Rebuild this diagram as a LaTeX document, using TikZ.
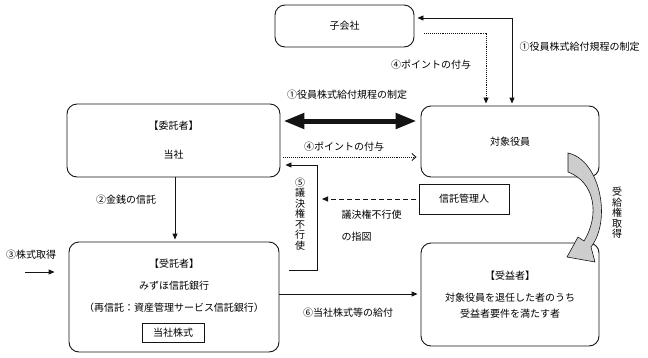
\documentclass[tikz,border=0pt]{standalone}
\usepackage{fontspec}
\setmainfont{Noto Sans CJK JP}
\usetikzlibrary{arrows.meta,positioning}
\definecolor{ArrowGray}{RGB}{205,205,205}
\definecolor{LineBlack}{RGB}{20,20,20}

\begin{document}
\begin{tikzpicture}[x=1pt,y=-1pt,font=\fontsize{10}{12}\selectfont,
  box/.style={draw=LineBlack,line width=0.9pt,rounded corners=10pt,inner sep=0pt,align=center},
  sqbox/.style={draw=LineBlack,line width=0.9pt,inner sep=0pt},
  flow/.style={LineBlack,line width=0.9pt,-{Triangle[length=6pt,width=5pt]}},
  tate/.style={align=center,inner sep=0pt,font=\fontsize{10}{10.5}\selectfont}]
  \useasboundingbox (0,0) rectangle (648,357);
  % boxes
  \node[box,minimum width=139pt,minimum height=42pt] (ko) at (344.5,26) {子会社};
  \node[box,minimum width=213pt,minimum height=73pt] (itaku) at (173.5,140.5) {【委託者】\\[17pt]当社};
  \node[box,minimum width=178pt,minimum height=71pt] (taisho) at (510,141.5) {対象役員};
  \node[sqbox,minimum width=90pt,minimum height=30pt] (kanri) at (464,199) {信託管理人};
  \node[box,minimum width=210pt,minimum height=110pt] (jutaku) at (174,297) {};
  \node[align=center,inner sep=0pt] (jutakutxt) at (174,285.5) {【受託者】\\[10pt]みずほ信託銀行\\[10pt]（再信託：資産管理サービス信託銀行）};
  \node[sqbox,minimum width=62pt,minimum height=19pt] (kabu) at (173,332.5) {当社株式};
  \node[box,minimum width=178pt,minimum height=103pt] (jueki) at (510,294.5) {【受益者】\\[10pt]対象役員を退任した者のうち\\[4pt]受益者要件を満たす者};
  \coordinate (sin) at (25,272);
  \coordinate (giketsu) at (317,165);
  \coordinate (shizu) at (322,199);

  % connectors
  \draw[LineBlack,line width=5pt,{Triangle[length=21pt,width=15pt]}-{Triangle[length=21pt,width=15pt]}]
    ([xshift=3pt,yshift=19.5pt]itaku.east) -- ([xshift=-4pt,yshift=20.5pt]taisho.west);
  \draw[LineBlack,line width=0.9pt,densely dotted,-{Straight Barb[length=4pt,width=7pt]}]
    ([xshift=3pt,yshift=-16.5pt]itaku.east) -- ([xshift=-4pt,yshift=-15.5pt]taisho.west);
  \draw[flow,{Triangle[length=6pt,width=5pt]}-{Triangle[length=6pt,width=5pt]}]
    ([xshift=3pt,yshift=8pt]ko.east) -| ([xshift=2pt,yshift=2pt]taisho.north);
  \draw[flow,densely dotted] ([xshift=10pt,yshift=-7pt]ko.east) -| ([xshift=-24pt,yshift=2pt]taisho.north);
  \draw[flow] ([xshift=1.5pt]itaku.south) -- ([xshift=1.5pt,yshift=2pt]itaku.south |- jutaku.north);
  \draw[flow] (sin) -- ([xshift=-14pt,yshift=25pt]jutaku.west);
  \draw[flow] ([xshift=10pt,yshift=27pt]jutaku.east) -| (giketsu) -- ([xshift=5pt,yshift=-24.5pt]itaku.east);
  \draw[flow,dashed,dash pattern=on 5pt off 3pt] ([xshift=-3pt]kanri.west) -- (shizu);
  \draw[flow] ([yshift=3pt]jutaku.east) -- ([xshift=-3pt,yshift=3pt]jutaku.east -| jueki.west);
  \filldraw[fill=ArrowGray,draw=LineBlack,line width=0.6pt]
    (568,153) .. controls (600,160) and (612,220) .. (591,247) -- (595,262) -- (567,257)
    -- (578,237) -- (584,241) .. controls (600,215) and (595,182) .. (568,172) -- cycle;

  % labels
  \node (l1) at (347,95) {①役員株式給付規程の制定};
  \node (l4) at (344,147) {④ポイントの付与};
  \node[anchor=west] (l1b) at (516,47) {①役員株式給付規程の制定};
  \node (l4b) at (431,65) {④ポイントの付与};
  \node (l2) at (126,200) {②金銭の信託};
  \node (l3) at (31,255) {③株式取得};
  \node[tate] (l5) at (300,214) {⑤\\議\\決\\権\\不\\行\\使};
  \node[anchor=west,align=left] (lshizu) at (338,226) {議決権不行使\\[10pt]の指図};
  \node (l6) at (348,313) {⑥当社株式等の給付};
  \node[tate] (lju) at (617,213) {受\\給\\権\\取\\得};
\end{tikzpicture}
\end{document}
